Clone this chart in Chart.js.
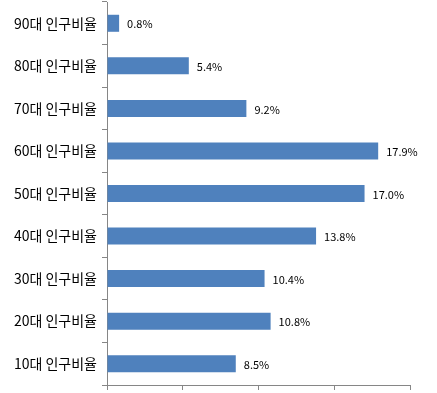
<!DOCTYPE html>
<html>
<head>
<meta charset="utf-8">
<script src="https://cdn.jsdelivr.net/npm/chart.js@4"></script>
<style>
  html, body { margin: 0; padding: 0; background: #fff; }
  #wrap { width: 437px; height: 393px; }
</style>
</head>
<body>
<div id="wrap"><canvas id="ageChart" width="437" height="393"></canvas></div>
<script>
// categories top to bottom, as in the picture
const ageLabels = ['90대 인구비율', '80대 인구비율', '70대 인구비율', '60대 인구비율', '50대 인구비율',
  '40대 인구비율', '30대 인구비율', '20대 인구비율', '10대 인구비율'];
const ratioValues = [0.8, 5.4, 9.2, 17.9, 17.0, 13.8, 10.4, 10.8, 8.5];

const axisGray = '#868686';
const barBlue = '#4F81BD';
const font = '"Noto Sans CJK KR", "Noto Sans", sans-serif';

// draws "x.x%" to the right of every bar
const valueLabels = {
  id: 'valueLabels',
  afterDatasetsDraw(chart) {
    const ctx = chart.ctx;
    const meta = chart.getDatasetMeta(0);
    ctx.save();
    ctx.font = '11px ' + font;
    ctx.fillStyle = '#000';
    ctx.textAlign = 'left';
    ctx.textBaseline = 'middle';
    meta.data.forEach((bar, i) => {
      ctx.fillText(ratioValues[i].toFixed(1) + '%', bar.x + 8, bar.y + 1);
    });
    ctx.restore();
  }
};

new Chart(document.getElementById('ageChart'), {
  type: 'bar',
  data: {
    labels: ageLabels,
    datasets: [{
      data: ratioValues,
      backgroundColor: barBlue,
      borderWidth: 0,
      categoryPercentage: 1,
      barPercentage: 0.4
    }]
  },
  options: {
    indexAxis: 'y',
    responsive: false,
    animation: false,
    layout: { padding: { top: 2, right: 27, left: 0, bottom: 0 } },
    plugins: {
      legend: { display: false },
      tooltip: { enabled: false }
    },
    scales: {
      x: {
        min: 0,
        max: 20,
        ticks: { stepSize: 5, display: false },
        grid: { drawOnChartArea: false, tickLength: 5, color: axisGray },
        border: { color: axisGray },
        afterFit(scale) { scale.height = 8; }
      },
      y: {
        grid: { offset: true, drawOnChartArea: false, tickLength: 5, color: axisGray },
        border: { color: axisGray },
        ticks: { color: '#000', font: { size: 14, family: font }, padding: 5 },
        afterFit(scale) {
          scale.width = 107;
          // labels sit mid-category, no extra room needed above/below
          scale.paddingTop = 0;
          scale.paddingBottom = 0;
        }
      }
    }
  },
  plugins: [valueLabels]
});
</script>
</body>
</html>
